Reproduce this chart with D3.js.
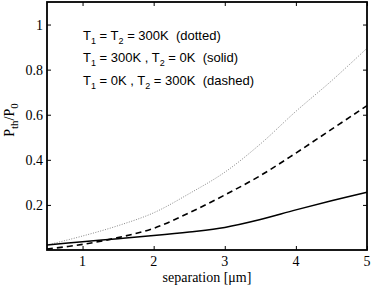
<!DOCTYPE html>
<html lang="en">
<head>
<meta charset="utf-8">
<style type="text/css">
body { margin: 0; background: #fff; }
.tick-label { font-family: "Liberation Serif", "Times New Roman", serif; font-size: 14px; fill: #000; }
.legend { font-family: "Liberation Sans", Arial, sans-serif; font-size: 13px; fill: #000; }
</style>
</head>
<body>
<svg width="374" height="289"></svg>
<script src="https://cdn.jsdelivr.net/npm/d3@7"></script>
<script type="text/javascript">
// separation in micrometres
var separation = [0.5, 1, 1.5, 2, 2.5, 3, 3.5, 4, 4.5, 5];
// P_th / P_0 for each temperature case
var bothWarm = [0.022, 0.062, 0.108, 0.165, 0.25, 0.345, 0.47, 0.615, 0.75, 0.895];   // dotted
var firstWarm = [0.022, 0.037, 0.05, 0.064, 0.08, 0.10, 0.135, 0.178, 0.218, 0.256];  // solid
var secondWarm = [0.004, 0.025, 0.055, 0.096, 0.165, 0.244, 0.33, 0.43, 0.535, 0.64]; // dashed

var xTicks = [1, 2, 3, 4, 5];
var yTicks = [0.2, 0.4, 0.6, 0.8, 1];
var yTickLabels = ["0.2", "0.4", "0.6", "0.8", "1"];

var svg = d3.select("svg"),
    plotLeft = 47, plotRight = 367, plotTop = 2, plotBottom = 250;

var x = d3.scaleLinear().domain([0.5, 5]).range([plotLeft, plotRight]);
var y = d3.scaleLinear().domain([0, 1.1]).range([plotBottom, plotTop]);

// curves
var line = d3.line()
    .x(function (d, i) { return x(separation[i]); })
    .y(function (d) { return y(d); })
    .curve(d3.curveCatmullRom.alpha(0.5));

svg.append("path").datum(bothWarm)
    .attr("d", line)
    .attr("fill", "none")
    .attr("stroke", "#888")
    .attr("stroke-width", 1)
    .attr("stroke-dasharray", "1,1.5");

svg.append("path").datum(secondWarm)
    .attr("d", line)
    .attr("fill", "none")
    .attr("stroke", "#000")
    .attr("stroke-width", 1.6)
    .attr("stroke-dasharray", "6,4");

svg.append("path").datum(firstWarm)
    .attr("d", line)
    .attr("fill", "none")
    .attr("stroke", "#000")
    .attr("stroke-width", 1.5);

// frame with inward ticks on all four sides
svg.append("g")
    .attr("transform", "translate(0," + plotBottom + ")")
    .call(d3.axisBottom(x).tickValues(xTicks).tickSize(-4).tickFormat(""))
    .call(function (g) { g.select(".domain").remove(); });
svg.append("g")
    .attr("transform", "translate(0," + plotTop + ")")
    .call(d3.axisTop(x).tickValues(xTicks).tickSize(-4).tickFormat(""))
    .call(function (g) { g.select(".domain").remove(); });
svg.append("g")
    .attr("transform", "translate(" + plotLeft + ",0)")
    .call(d3.axisLeft(y).tickValues(yTicks).tickSize(-4).tickFormat(""))
    .call(function (g) { g.select(".domain").remove(); });
svg.append("g")
    .attr("transform", "translate(" + plotRight + ",0)")
    .call(d3.axisRight(y).tickValues(yTicks).tickSize(-4).tickFormat(""))
    .call(function (g) { g.select(".domain").remove(); });

svg.selectAll(".tick line").attr("stroke", "#000").attr("stroke-width", 1);

svg.append("rect")
    .attr("x", plotLeft).attr("y", plotTop)
    .attr("width", plotRight - plotLeft).attr("height", plotBottom - plotTop)
    .attr("fill", "none")
    .attr("stroke", "#000")
    .attr("stroke-width", 1.8);

// tick labels
svg.selectAll(".xlab").data(xTicks).enter().append("text")
    .attr("class", "tick-label")
    .attr("x", function (d) { return x(d); })
    .attr("y", 266)
    .attr("text-anchor", "middle")
    .text(function (d) { return d; });

svg.selectAll(".ylab").data(yTicks).enter().append("text")
    .attr("class", "tick-label")
    .attr("x", 43)
    .attr("y", function (d) { return y(d) + 5; })
    .attr("text-anchor", "end")
    .text(function (d, i) { return yTickLabels[i]; });

// axis titles
svg.append("text")
    .attr("class", "tick-label")
    .attr("x", (plotLeft + plotRight) / 2)
    .attr("y", 282)
    .attr("text-anchor", "middle")
    .text("separation [\u03bcm]");

var yl = svg.append("text")
    .attr("class", "tick-label")
    .attr("transform", "translate(14,120) rotate(-90)")
    .attr("text-anchor", "middle");
yl.append("tspan").text("P");
yl.append("tspan").attr("dy", 4).style("font-size", "11px").text("th");
yl.append("tspan").attr("dy", -4).text("/P");
yl.append("tspan").attr("dy", 4).style("font-size", "11px").text("0");

// legend text
var legendLines = [
    [["T", 0], ["1", 1], [" = T", 0], ["2", 1], [" = 300K  (dotted)", 0]],
    [["T", 0], ["1", 1], [" = 300K , T", 0], ["2", 1], [" = 0K  (solid)", 0]],
    [["T", 0], ["1", 1], [" = 0K , T", 0], ["2", 1], [" = 300K  (dashed)", 0]]
];

legendLines.forEach(function (parts, row) {
    var t = svg.append("text")
        .attr("class", "legend")
        .attr("x", 83)
        .attr("y", 39.5 + row * 22.5)
        .attr("xml:space", "preserve");
    var sub = 0;
    parts.forEach(function (p) {
        var dy = (p[1] ? 4 : 0) - (sub ? 4 : 0);
        t.append("tspan")
            .attr("dy", dy)
            .style("font-size", p[1] ? "9px" : "13px")
            .text(p[0]);
        sub = p[1];
    });
});
</script>
</body>
</html>
